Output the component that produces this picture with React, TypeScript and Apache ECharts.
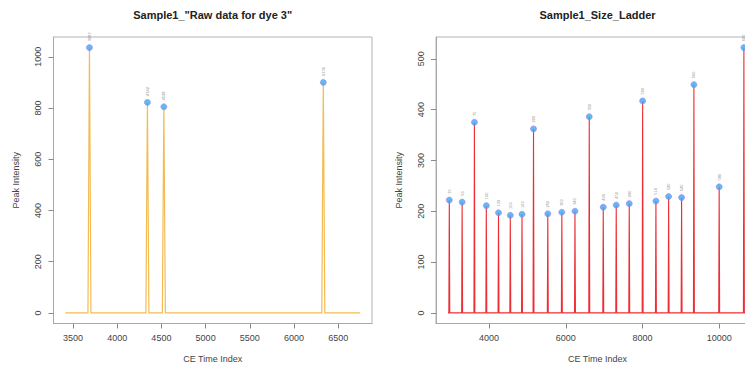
import React, { useEffect, useRef } from 'react';
import * as echarts from 'echarts';

// ---------- data ----------
const leftTitle = 'Sample1_"Raw data for dye 3"';
const rightTitle = 'Sample1_Size_Ladder';
const xName = 'CE Time Index';
const yName = 'Peak Intensity';

// left panel (dye 3 raw data)
const leftRange = [3414, 6747];
const leftPeakTimes = [3687, 4342, 4528, 6330];
const leftPeakHeights = [1036, 822, 805, 900];
const leftPeakLabels = ['3687', '4342', '4528', '6330'];
const leftXTicks = [3500, 4000, 4500, 5000, 5500, 6000, 6500];
const leftYTicks = [0, 200, 400, 600, 800, 1000];

// right panel (size ladder)
const rightRange = [2931, 10723];
const rightPeakTimes = [
  2966, 3300, 3620, 3930, 4248, 4555, 4860, 5160, 5532, 5898, 6240,
  6612, 6977, 7315, 7654, 8003, 8349, 8680, 9018, 9339, 9997, 10641,
];
const rightPeakHeights = [
  222, 218, 375, 211, 197, 192, 194, 362, 195, 198, 200,
  386, 208, 212, 215, 417, 220, 229, 227, 449, 248, 522,
];
const rightPeakLabels = [
  '35', '50', '75', '100', '139', '150', '160', '200', '250', '300', '340',
  '350', '400', '450', '490', '500', '514', '520', '540', '560', '580', '600',
];
const rightXTicks = [4000, 6000, 8000, 10000];
const rightYTicks = [0, 100, 200, 300, 400, 500];

// ---------- helpers ----------
function buildTrace(range: number[], times: number[], heights: number[], half: number) {
  const pts: number[][] = [[range[0], 0]];
  times.forEach((t, i) => {
    pts.push([t - half, 0], [t, heights[i]], [t + half, 0]);
  });
  pts.push([range[1], 0]);
  return pts;
}

const FONT = 'Liberation Sans, Arial, sans-serif';
const AXIS_GRAY = '#a8a8a8';
const TEXT_COL = '#444444';

function xAxisCfg(gridIndex: number, min: number, max: number, ticks: number[]) {
  return {
    type: 'value',
    gridIndex,
    min,
    max,
    name: xName,
    nameLocation: 'middle',
    nameGap: 31,
    nameTextStyle: { fontFamily: FONT, fontSize: 9, color: TEXT_COL },
    axisLine: { show: true, onZero: false, lineStyle: { color: AXIS_GRAY, width: 1 } },
    axisTick: { show: true, inside: false, length: 5, customValues: ticks, lineStyle: { color: '#8a8a8a' } },
    axisLabel: {
      show: true, margin: 10, customValues: ticks, fontFamily: FONT, fontSize: 9, color: TEXT_COL,
      formatter: (v: number) => String(v),
    },
    splitLine: { show: false },
  };
}

function yAxisCfg(gridIndex: number, min: number, max: number, ticks: number[]) {
  return {
    type: 'value',
    gridIndex,
    min,
    max,
    name: yName,
    nameLocation: 'middle',
    nameGap: 33,
    nameTextStyle: { fontFamily: FONT, fontSize: 9, color: TEXT_COL },
    axisLine: { show: true, onZero: false, lineStyle: { color: AXIS_GRAY, width: 1 } },
    axisTick: { show: true, inside: false, length: 5, customValues: ticks, lineStyle: { color: '#8a8a8a' } },
    axisLabel: {
      show: true, margin: 11, rotate: 90, customValues: ticks, fontFamily: FONT, fontSize: 9, color: TEXT_COL,
      formatter: (v: number) => String(v),
    },
    splitLine: { show: false },
  };
}

function peakScatter(idx: number, times: number[], heights: number[], labels: string[]) {
  return {
    type: 'scatter',
    xAxisIndex: idx,
    yAxisIndex: idx,
    data: times.map((t, i) => [t, heights[i], labels[i]]),
    symbol: 'circle',
    symbolSize: 6,
    itemStyle: { color: '#3aa7f2', borderColor: '#9a86ec', borderWidth: 0.8 },
    z: 5,
    label: {
      show: true,
      position: 'top',
      distance: 3,
      rotate: 90,
      align: 'left',
      verticalAlign: 'middle',
      fontFamily: FONT,
      fontSize: 4,
      color: '#666',
      formatter: (p: any) => p.data[2],
    },
  };
}

export default function App() {
  const ref = useRef<HTMLDivElement>(null);

  useEffect(() => {
    if (!ref.current) return;
    const chart = echarts.init(ref.current, undefined, { renderer: 'svg' });

    const leftTrace = buildTrace(leftRange, leftPeakTimes, leftPeakHeights, 17);
    const rightTrace = buildTrace(rightRange, rightPeakTimes, rightPeakHeights, 12);

    const lExt = (leftRange[1] - leftRange[0]) * 0.04;
    const rExt = (rightRange[1] - rightRange[0]) * 0.04;
    const lYmax = Math.max(...leftPeakHeights);
    const rYmax = Math.max(...rightPeakHeights);

    const option: any = {
      animation: false,
      backgroundColor: '#ffffff',
      title: [
        {
          text: leftTitle,
          left: 212.7,
          top: 9,
          padding: 0,
          textAlign: 'center',
          textStyle: { fontFamily: FONT, fontSize: 11, fontWeight: 'bold', color: '#222' },
        },
        {
          text: rightTitle,
          left: 597.5,
          top: 9,
          padding: 0,
          textAlign: 'center',
          textStyle: { fontFamily: FONT, fontSize: 11, fontWeight: 'bold', color: '#222' },
        },
      ],
      grid: [
        {
          left: 53.5, right: 373, top: 37, bottom: 44.5,
          show: true, borderColor: '#b4b4b4', borderWidth: 1, backgroundColor: 'transparent',
          containLabel: false, outerBoundsMode: 'none',
        },
        {
          left: 436, right: -14, top: 37, bottom: 44.5,
          show: true, borderColor: '#b4b4b4', borderWidth: 1, backgroundColor: 'transparent',
          containLabel: false, outerBoundsMode: 'none',
        },
      ],
      xAxis: [
        xAxisCfg(0, leftRange[0] - lExt, leftRange[1] + lExt, leftXTicks),
        xAxisCfg(1, rightRange[0] - rExt, rightRange[1] + rExt, rightXTicks),
      ],
      yAxis: [
        yAxisCfg(0, -lYmax * 0.04, lYmax * 1.04, leftYTicks),
        yAxisCfg(1, -rYmax * 0.04, rYmax * 1.04, rightYTicks),
      ],
      series: [
        {
          type: 'line',
          xAxisIndex: 0,
          yAxisIndex: 0,
          data: leftTrace,
          symbol: 'none',
          lineStyle: { color: '#f4bb52', width: 1.2 },
          z: 2,
        },
        {
          type: 'line',
          xAxisIndex: 1,
          yAxisIndex: 1,
          data: rightTrace,
          symbol: 'none',
          lineStyle: { color: '#ec2f35', width: 1.1 },
          z: 2,
        },
        peakScatter(0, leftPeakTimes, leftPeakHeights, leftPeakLabels),
        peakScatter(1, rightPeakTimes, rightPeakHeights, rightPeakLabels),
      ],
    };

    chart.setOption(option);
    return () => chart.dispose();
  }, []);

  return <div ref={ref} style={{ width: 745, height: 368, position: 'absolute', left: 0, top: 0 }} />;
}
